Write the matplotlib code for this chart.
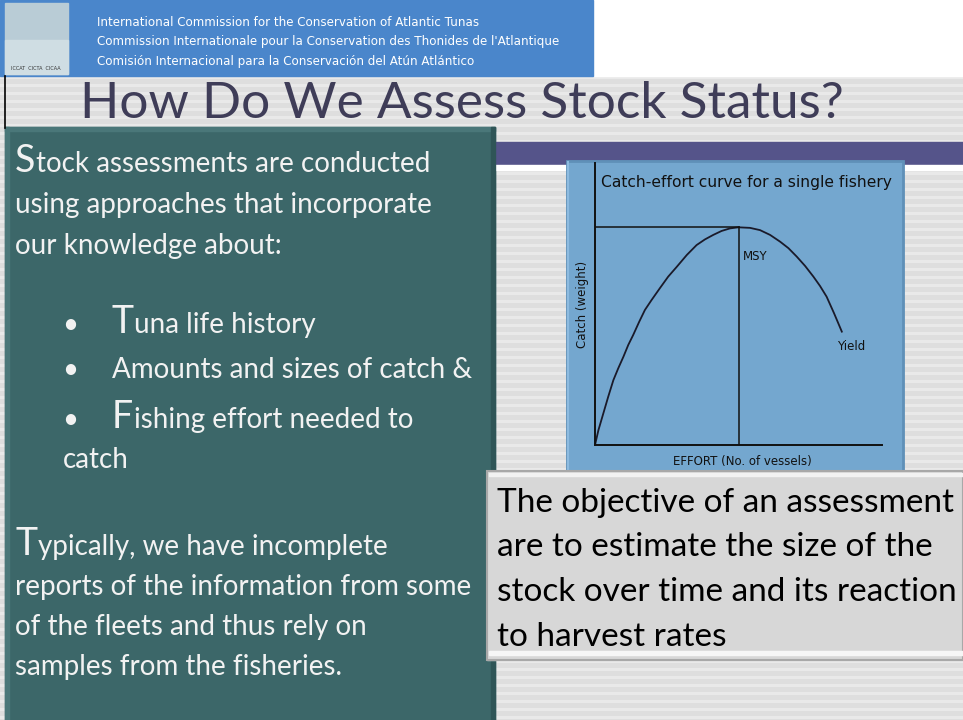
import numpy as np
import matplotlib.pyplot as plt
from matplotlib.patches import Rectangle

plt.rcParams['font.family'] = ['Lato', 'DejaVu Sans']

W, H = 963, 720

# catch-effort curve (both axes in % of axis length)
effort = [0, 1.2, 2.9, 4.6, 6.4, 8.1, 9.9, 11.6, 13.3, 15.4, 17.4, 19.7, 22.6,
          25.5, 28.5, 32.0, 35.4, 38.3, 41.2, 44.1, 47.0, 49.9, 54.0, 57.5,
          61.0, 64.5, 67.4, 70.3, 73.2, 76.1, 78.4, 80.7, 83.3, 86.0]
catch = [0, 5.3, 11.2, 17.1, 23.0, 27.2, 31.3, 35.5, 39.0, 43.7, 47.9, 51.4, 55.6,
         59.7, 63.2, 67.4, 70.9, 72.9, 74.5, 75.9, 76.8, 77.2, 77.0, 76.2,
         74.5, 72.1, 69.8, 66.8, 63.5, 59.7, 56.4, 52.6, 46.7, 40.2]
msy_effort = 50
msy_catch = 77.2

header_lines = ['International Commission for the Conservation of Atlantic Tunas',
                'Commission Internationale pour la Conservation des Thonides de l\'Atlantique',
                'Comisión Internacional para la Conservación del Atún Atlántico']
slide_title = 'How Do We Assess Stock Status?'
left_text = ['Stock assessments are conducted',
             'using approaches that incorporate',
             'our knowledge about:']
bullets = ['Tuna life history', 'Amounts and sizes of catch &', 'Fishing effort needed to']
bullet_tail = 'catch'
left_text2 = ['Typically, we have incomplete',
              'reports of the information from some',
              'of the fleets and thus rely on',
              'samples from the fisheries.']
box_text = ['The objective of an assessment',
            'are to estimate the size of the',
            'stock over time and its reaction',
            'to harvest rates']

TEAL = '#3c6769'
GREY_BG = '#dedede'


def drop_text(ax, x, y, s, size, color, big=1.35):
    # first letter drawn larger, like the slide theme does
    t = ax.text(x, y, s[0], fontsize=size * big, color=color, va='baseline', ha='left')
    r = ax.figure.canvas.get_renderer()
    bb = t.get_window_extent(r)
    x1 = ax.transData.inverted().transform((bb.x1, bb.y0))[0]
    ax.text(x1 + 0.5, y, s[1:], fontsize=size, color=color, va='baseline', ha='left')


fig = plt.figure(figsize=(W / 100, H / 100), dpi=100)
bg = fig.add_axes([0, 0, 1, 1])
bg.set_xlim(0, W)
bg.set_ylim(H, 0)
bg.axis('off')

# striped grey background
bg.add_patch(Rectangle((0, 0), W, H, color=GREY_BG, zorder=0))
for yy in range(76, H, 8):
    bg.add_patch(Rectangle((0, yy), W, 3, color='#e9e9e9', lw=0, zorder=0.5))
bg.add_patch(Rectangle((593, 0), W - 593, 76, color='white', zorder=1))

# header banner
bg.add_patch(Rectangle((0, 0), 593, 76, color='#4a86cb', zorder=1))
bg.add_patch(Rectangle((5, 3), 63, 71, color='#b9ccd6', zorder=2))
bg.add_patch(Rectangle((5, 40), 63, 34, color='#cfdde3', zorder=2))
bg.text(36, 70, 'ICCAT  CICTA  CICAA', fontsize=3.5, ha='center', va='baseline',
        color='#333333', family='DejaVu Sans', zorder=3)
for i, line in enumerate(header_lines):
    bg.text(97, 22 + i * 20, line, fontsize=8.6, color='white', va='center', ha='left',
            family='DejaVu Sans', zorder=3)
bg.plot([5, 5], [76, 128], color='black', lw=1.2, zorder=3)

# title
bg.text(462, 104, slide_title, fontsize=37, color='#3f3d58', ha='center', va='center', zorder=3)

# left teal panel
bg.add_patch(Rectangle((5, 127), 490, H - 127, color=TEAL, zorder=2))
bg.add_patch(Rectangle((5, 127), 490, 4, color='#4a7779', zorder=2.1))
bg.add_patch(Rectangle((5, 127), 4, H - 127, color='#4a7779', zorder=2.1))
bg.add_patch(Rectangle((491, 127), 4, H - 127, color='#2f5557', zorder=2.1))

# purple band on the right
bg.add_patch(Rectangle((495, 142), W - 495, 23, color='#55548a', zorder=2))
bg.add_patch(Rectangle((495, 165), W - 495, 5, color='white', zorder=2))

# chart frame
bg.add_patch(Rectangle((567, 161), 336, 312, color='#74a7cf', zorder=3))
bg.add_patch(Rectangle((567, 161), 336, 312, fill=False, ec='#5f90b8', lw=2, zorder=3.1))
bg.plot([568, 568], [162, 472], color='#8dbbe0', lw=1.5, zorder=3.2)

# grey text box
bg.add_patch(Rectangle((487, 471), W - 487, 189, color='#d7d7d7', zorder=5))
bg.add_patch(Rectangle((487, 471), W - 487, 189, fill=False, ec='#a8a8a8', lw=1.5, zorder=5.1))
bg.add_patch(Rectangle((489, 473), W - 489, 3, color='#f2f2f2', zorder=5.1))
bg.add_patch(Rectangle((489, 651), W - 489, 4, color='#f6f6f6', zorder=5.1))

fig.canvas.draw()

white = '#f2f2f2'
size = 20
for i, line in enumerate(left_text):
    if i == 0:
        drop_text(bg, 15, 172, line, size, white)
    else:
        bg.text(15, 172 + i * 41, line, fontsize=size, color=white, va='baseline')
for i, line in enumerate(bullets):
    yb = [333, 378, 428][i]
    bg.text(62, yb, '•', fontsize=size, color=white, va='baseline')
    if line[0] == 'A':
        bg.text(112, yb, line, fontsize=size, color=white, va='baseline')
    else:
        drop_text(bg, 112, yb, line, size, white)
bg.text(63, 468, bullet_tail, fontsize=size, color=white, va='baseline')
for i, line in enumerate(left_text2):
    if i == 0:
        drop_text(bg, 15, 555, line, size, white)
    else:
        bg.text(15, 555 + i * 40, line, fontsize=size, color=white, va='baseline')

for i, line in enumerate(box_text):
    bg.text(497, 512 + i * 44.5, line, fontsize=24, color='black', va='baseline', zorder=6)

# the catch-effort chart
ax = fig.add_axes([595 / W, (H - 445) / H, 287 / W, 282 / H])
ax.set_xlim(0, 100)
ax.set_ylim(0, 100)
ax.patch.set_alpha(0)
for side in ['top', 'right']:
    ax.spines[side].set_visible(False)
for side in ['left', 'bottom']:
    ax.spines[side].set_linewidth(1.4)
    ax.spines[side].set_color('#111111')
ax.set_xticks([])
ax.set_yticks([])
ax.plot(effort, catch, color='#1a1a2a', lw=1.3, solid_joinstyle='round')
ax.plot([0, msy_effort], [msy_catch, msy_catch], color='#111111', lw=1.1)
ax.plot([msy_effort, msy_effort], [0, msy_catch], color='#111111', lw=1.1)
ax.text(2, 93, 'Catch-effort curve for a single fishery', fontsize=11.2, family='DejaVu Sans',
        color='#111111', va='center', ha='left')
ax.text(msy_effort + 1.5, 67, 'MSY', fontsize=8.5, family='DejaVu Sans', color='#111111', va='center')
ax.text(84.5, 35, 'Yield', fontsize=8.5, family='DejaVu Sans', color='#111111', va='center')
ax.set_ylabel('Catch (weight)', fontsize=8.5, family='DejaVu Sans', color='#111111', labelpad=4)
ax.set_xlabel('EFFORT (No. of vessels)', fontsize=8.5, family='DejaVu Sans', color='#111111')
ax.xaxis.set_label_coords(0.515, -0.035)

fig.savefig('out.png', dpi=100)
